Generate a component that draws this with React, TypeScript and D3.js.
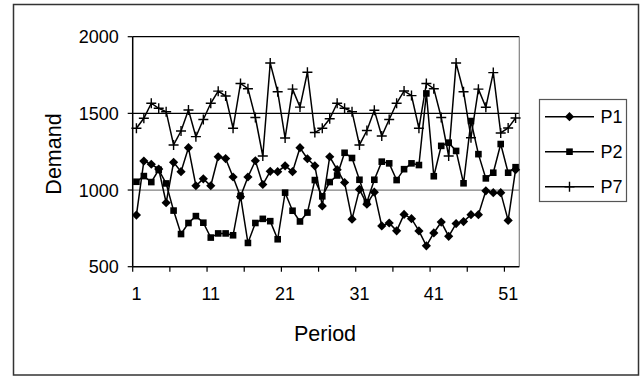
import React from "react";
import * as d3 from "d3";

const periods: number[] = Array.from({ length: 52 }, (_, i) => i + 1);

const p1: number[] = [
  837, 1189, 1168, 1137, 917, 1181, 1120, 1276, 1028, 1073,
  1028, 1217, 1205, 1085, 957, 1085, 1191, 1036, 1122, 1120,
  1158, 1120, 1276, 1204, 1158, 896, 1217, 1133, 1049, 810,
  1004, 908, 986, 766, 785, 734, 841, 813, 733, 636,
  720, 791, 698, 781, 794, 839, 839, 995, 983, 983,
  802, 1133,
];

const p2: number[] = [
  1054, 1091, 1052, 1132, 1043, 866, 713, 785, 830, 787,
  690, 717, 717, 705, 962, 655, 785, 812, 797, 679,
  983, 865, 795, 853, 1065, 959, 1052, 1095, 1243, 1209,
  1067, 920, 1067, 1185, 1174, 1065, 1136, 1174, 1163, 1630,
  1090, 1288, 1309, 1255, 1044, 1450, 1234, 1076, 1113, 1300,
  1113, 1149,
];

const p7: number[] = [
  1403, 1468, 1566, 1533, 1511, 1294, 1385, 1522, 1348, 1460,
  1566, 1645, 1613, 1403, 1695, 1661, 1473, 1222, 1828, 1641,
  1339, 1658, 1541, 1768, 1375, 1403, 1465, 1566, 1533, 1511,
  1294, 1388, 1520, 1352, 1460, 1566, 1646, 1616, 1403, 1695,
  1661, 1473, 1222, 1828, 1641, 1341, 1658, 1540, 1766, 1372,
  1405, 1470,
];

const seriesNames: string[] = ["P1", "P2", "P7"];
const yTicks: number[] = [500, 1000, 1500, 2000];
const xLabelPeriods: number[] = [1, 11, 21, 31, 41, 51];
const xTickBounds: number[] = [0.5, 5.5, 10.5, 15.5, 20.5, 25.5, 30.5, 35.5, 40.5, 45.5, 50.5];

const FONT = "'Liberation Sans', Arial, sans-serif";

function Marker({ kind, cx, cy }: { kind: string; cx: number; cy: number }) {
  if (kind === "diamond") {
    const r = 4.6;
    return (
      <path
        d={`M${cx},${cy - r}L${cx + r},${cy}L${cx},${cy + r}L${cx - r},${cy}Z`}
        fill="#000"
      />
    );
  }
  if (kind === "square") {
    const s = 6.6;
    return <rect x={cx - s / 2} y={cy - s / 2} width={s} height={s} fill="#000" />;
  }
  const r = 5;
  return (
    <path
      d={`M${cx - r},${cy}L${cx + r},${cy}M${cx},${cy - r}L${cx},${cy + r}`}
      stroke="#000"
      strokeWidth={1.4}
      fill="none"
    />
  );
}

export default function App() {
  const W = 644;
  const H = 377;
  const left = 132.7;
  const right = 519.3;
  const top = 36.7;
  const bottom = 266.7;

  const x = d3.scaleLinear().domain([0.5, 52.5]).range([left, right]);
  const y = d3.scaleLinear().domain([500, 2000]).range([bottom, top]);

  const series = [
    { name: seriesNames[0], values: p1, marker: "diamond" },
    { name: seriesNames[1], values: p2, marker: "square" },
    { name: seriesNames[2], values: p7, marker: "plus" },
  ];

  const line = d3
    .line<number>()
    .x((_, i) => x(periods[i]))
    .y((d) => y(d));

  const legendY = [116.7, 151.7, 186.7];

  return (
    <svg
      width={W}
      height={H}
      style={{ position: "absolute", left: 0, top: 0, background: "#fff" }}
      fontFamily={FONT}
    >
      <rect x={0} y={0} width={W} height={H} fill="#fff" />
      {/* chart border */}
      <rect x={13.5} y={4.5} width={625} height={370.5} fill="none" stroke="#333" strokeWidth={1.5} />

      {/* gridlines */}
      {yTicks.slice(1).map((t) => (
        <line
          key={t}
          x1={left}
          x2={right}
          y1={y(t)}
          y2={y(t)}
          stroke={t === 1000 ? "#808080" : "#000"}
          strokeWidth={1.2}
        />
      ))}
      {/* plot right border */}
      <line x1={right} x2={right} y1={top} y2={bottom} stroke="#808080" strokeWidth={1.2} />

      {/* axes */}
      <line x1={left} x2={left} y1={top} y2={bottom} stroke="#000" strokeWidth={1.5} />
      <line x1={left} x2={right} y1={bottom} y2={bottom} stroke="#000" strokeWidth={1.5} />

      {yTicks.map((t) => (
        <g key={"yt" + t}>
          <line x1={left - 5} x2={left} y1={y(t)} y2={y(t)} stroke="#000" strokeWidth={1.2} />
          <text
            x={left - 14}
            y={y(t)}
            dy="0.36em"
            textAnchor="end"
            fontSize={18}
            fill="#000"
          >
            {t}
          </text>
        </g>
      ))}

      {xTickBounds.map((b) => (
        <line key={"xt" + b} x1={x(b)} x2={x(b)} y1={bottom} y2={bottom + 5} stroke="#000" strokeWidth={1.2} />
      ))}
      {xLabelPeriods.map((p) => (
        <text key={"xl" + p} x={x(p)} y={300} textAnchor="middle" fontSize={18} fill="#000">
          {p}
        </text>
      ))}

      {/* axis titles */}
      <text x={325} y={340.5} textAnchor="middle" fontSize={21.5} fill="#000">
        Period
      </text>
      <text
        transform={`translate(60.5,154) rotate(-90)`}
        textAnchor="middle"
        fontSize={21.5}
        fill="#000"
      >
        Demand
      </text>

      {/* series */}
      {series.map((s) => (
        <g key={s.name}>
          <path d={line(s.values) || ""} fill="none" stroke="#000" strokeWidth={1.5} />
          {s.values.map((v, i) => (
            <Marker key={i} kind={s.marker} cx={x(periods[i])} cy={y(v)} />
          ))}
        </g>
      ))}

      {/* legend */}
      <rect x={539.5} y={99.5} width={87} height={102} fill="#fff" stroke="#555" strokeWidth={1.2} />
      {series.map((s, i) => (
        <g key={"lg" + s.name}>
          <line x1={545} x2={594} y1={legendY[i]} y2={legendY[i]} stroke="#000" strokeWidth={1.5} />
          <Marker kind={s.marker} cx={569.5} cy={legendY[i]} />
          <text x={600.5} y={legendY[i]} dy="0.36em" fontSize={18} fill="#000">
            {s.name}
          </text>
        </g>
      ))}
    </svg>
  );
}
